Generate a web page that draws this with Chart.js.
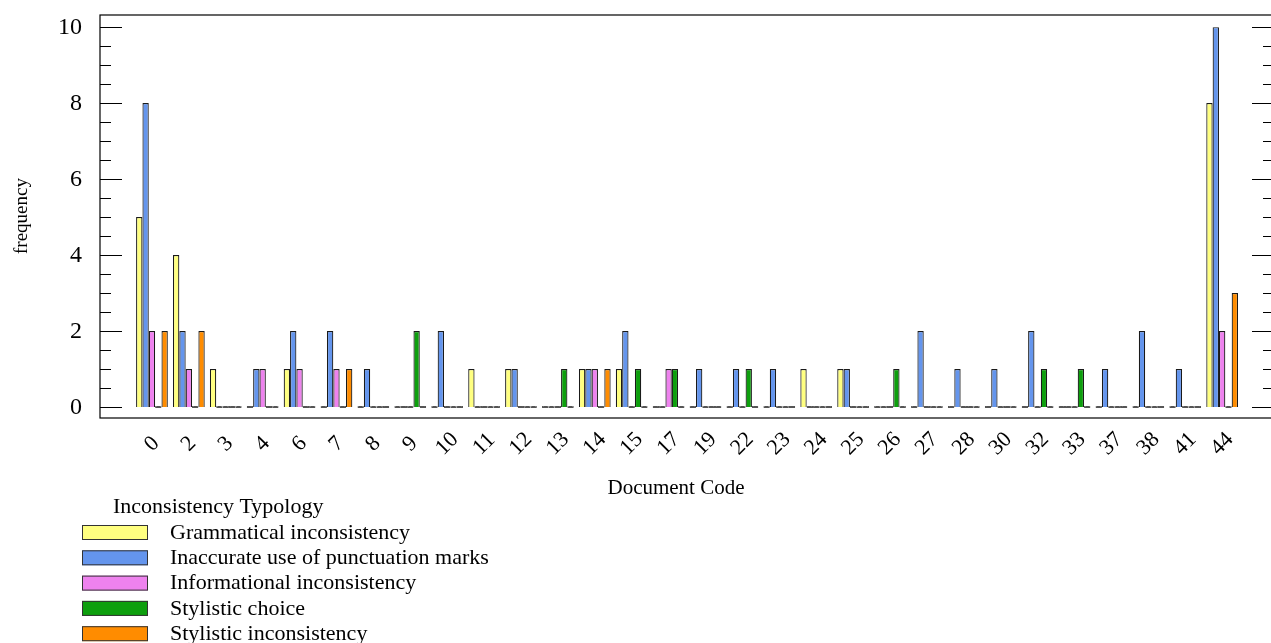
<!DOCTYPE html>
<html>
<head>
<meta charset="utf-8">
<script src="https://cdn.jsdelivr.net/npm/chart.js@4.4.1/dist/chart.umd.min.js"></script>
<style>
  html, body { margin: 0; padding: 0; background: #fff; }
  #wrap { width: 1271px; height: 643px; position: relative; }
</style>
</head>
<body>
<div id="wrap"><canvas id="typologyChart"></canvas></div>
<script>
// Document codes along the x axis
const docCodes = ['0', '2', '3', '4', '6', '7', '8', '9', '10', '11', '12', '13', '14', '15', '17',
                  '19', '22', '23', '24', '25', '26', '27', '28', '30', '32', '33', '37', '38', '41', '44'];

// frequency per typology
const grammatical   = [5, 4, 1, 0, 1, 0, 0, 0, 0, 1, 1, 0, 1, 1, 0, 0, 0, 0, 1, 1, 0, 0, 0, 0, 0, 0, 0, 0, 0, 8];
const punctuation   = [8, 2, 0, 1, 2, 2, 1, 0, 2, 0, 1, 0, 1, 2, 0, 1, 1, 1, 0, 1, 0, 2, 1, 1, 2, 0, 1, 2, 1, 10];
const informational = [2, 1, 0, 1, 1, 1, 0, 0, 0, 0, 0, 0, 1, 0, 1, 0, 0, 0, 0, 0, 0, 0, 0, 0, 0, 0, 0, 0, 0, 2];
const styleChoice   = [0, 0, 0, 0, 0, 0, 0, 2, 0, 0, 0, 1, 0, 1, 1, 0, 1, 0, 0, 0, 1, 0, 0, 0, 1, 1, 0, 0, 0, 0];
const styleIncons   = [2, 2, 0, 0, 0, 1, 0, 0, 0, 0, 0, 0, 1, 0, 0, 0, 0, 0, 0, 0, 0, 0, 0, 0, 0, 0, 0, 0, 0, 3];

const typologyNames = ['Grammatical inconsistency', 'Inaccurate use of punctuation marks',
                       'Informational inconsistency', 'Stylistic choice', 'Stylistic inconsistency'];
const yTickValues = [0, 2, 4, 6, 8, 10];

const colors = ['#FFFF80', '#6495ED', '#EE82EE', '#0D9F0D', '#FF8C00'];
const serif = 'Liberation Serif';

// frame with inward ticks on both sides, tick labels, titles and legend
const framePlugin = {
    id: 'frame',
    afterDraw(chart) {
        const ctx = chart.ctx;
        const x = chart.scales.x, y = chart.scales.y;
        const area = chart.chartArea;
        const left = 100, right = 1274, top = area.top, bottom = area.bottom;
        ctx.save();
        ctx.strokeStyle = '#000';
        ctx.lineWidth = 1.2;
        ctx.strokeRect(left, top, right - left, bottom - top);
        for (let v = 0; v <= 10; v += 0.5) {
            const py = Math.round(y.getPixelForValue(v)) + 0.5;
            const len = v % 2 === 0 ? 22 : 11;
            ctx.beginPath();
            ctx.moveTo(left, py); ctx.lineTo(left + len, py);
            ctx.moveTo(right, py); ctx.lineTo(right - len, py);
            ctx.stroke();
        }
        ctx.fillStyle = '#000';
        ctx.textBaseline = 'middle';
        // y tick labels
        ctx.textAlign = 'right';
        ctx.font = '24px "' + serif + '"';
        yTickValues.forEach(v => ctx.fillText(String(v), 82, y.getPixelForValue(v) + 1));
        // x tick labels, rotated and centred on the category
        ctx.textAlign = 'center';
        ctx.font = '22px "' + serif + '"';
        docCodes.forEach((lab, i) => {
            ctx.save();
            ctx.translate(x.getPixelForTick(i), 444);
            ctx.rotate(-Math.PI / 4);
            ctx.fillText(lab, 0, 0);
            ctx.restore();
        });
        ctx.font = '21px "' + serif + '"';
        ctx.fillText('Document Code', 676, 488);
        ctx.save();
        ctx.translate(22, 216);
        ctx.rotate(-Math.PI / 2);
        ctx.font = '19px "' + serif + '"';
        ctx.fillText('frequency', 0, 0);
        ctx.restore();
        // legend
        ctx.textAlign = 'left';
        ctx.font = '22px "' + serif + '"';
        ctx.fillText('Inconsistency Typology', 113, 507);
        chart.data.datasets.forEach((ds, i) => {
            const cy = 532 + i * 25.3;
            ctx.fillStyle = colors[i];
            ctx.fillRect(82, cy - 7, 66, 15);
            ctx.strokeStyle = '#333';
            ctx.lineWidth = 1;
            ctx.strokeRect(82.5, cy - 6.5, 65, 14);
            ctx.fillStyle = '#000';
            ctx.fillText(ds.label, 170, cy + 1);
        });
        ctx.restore();
    }
};

const seriesValues = [grammatical, punctuation, informational, styleChoice, styleIncons];

const ctx = document.getElementById('typologyChart').getContext('2d');
new Chart(ctx, {
    type: 'bar',
    data: {
        labels: docCodes,
        datasets: typologyNames.map((name, i) => ({
            label: name,
            data: seriesValues[i],
            // zero counts show as a flat grey stub on the baseline
            backgroundColor: c => (c.raw === 0 ? '#555' : colors[i]),
            borderColor: c => (c.raw === 0 ? '#555' : '#1a1a1a'),
            borderWidth: 1.2,
            minBarLength: 2
        }))
    },
    options: {
        responsive: true,
        maintainAspectRatio: false,
        animation: false,
        layout: { padding: { top: 15, right: 30.4, left: 0, bottom: 0 } },
        datasets: { bar: { barPercentage: 1, categoryPercentage: 0.86 } },
        plugins: { legend: { display: false }, tooltip: { enabled: false } },
        scales: {
            x: {
                grid: { display: false },
                border: { display: false },
                ticks: { display: false },
                afterFit(scale) { scale.height = 225; }
            },
            y: {
                min: -0.29,
                max: 10.32,
                grid: { display: false },
                border: { display: false },
                ticks: { display: false },
                afterFit(scale) { scale.width = 133.5; }
            }
        }
    },
    plugins: [framePlugin]
});
</script>
</body>
</html>
